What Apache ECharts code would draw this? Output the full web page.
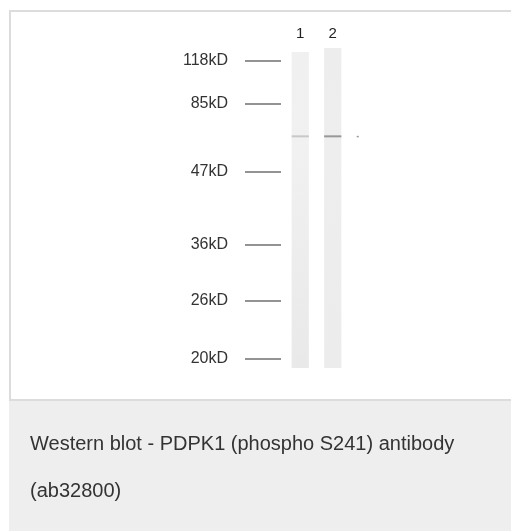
<!DOCTYPE html>
<html>
<head>
<meta charset="utf-8">
<script src="https://cdn.jsdelivr.net/npm/echarts@6/dist/echarts.min.js"></script>
<style>
html,body{margin:0;padding:0;background:#fff;}
#c{width:511px;height:531px;}
</style>
</head>
<body>
<div id="c"></div>
<script>
// Lanes
var lanes = ['1', '2'];
var laneTop = [2.5, 1.2];      // migration start of each lane
var laneBottom = [100, 100];   // migration end of each lane
// Molecular weight markers (migration distance)
var markerLabels = ['118kD', '85kD', '47kD', '36kD', '26kD', '20kD'];
var markerPos = [5.2, 18.5, 39.5, 62.0, 79.3, 97.2];
// Detected bands: [lane, migration, intensity]
var bandLane = ['1', '2'];
var bandPos = [28.5, 28.5];
var bandIntensity = [0.25, 0.6];
var caption = ['Western blot - PDPK1 (phospho S241) antibody', '(ab32800)'];

var FONT = '"Liberation Sans", Arial, Helvetica, sans-serif';
var chart = echarts.init(document.getElementById('c'), null, {renderer: 'canvas'});

var laneData = lanes.map(function (l, i) { return [i, laneTop[i], laneBottom[i]]; });
var bandData = bandLane.map(function (l, i) { return [l, bandPos[i], bandIntensity[i]]; });

chart.setOption({
  animation: false,
  backgroundColor: '#fff',
  graphic: [
    {type: 'rect', z: -10, shape: {x: 10, y: 11, width: 520, height: 389},
     style: {fill: '#fff', stroke: '#dcdcdc', lineWidth: 2}},
    {type: 'rect', z: -10, shape: {x: 9, y: 401, width: 510, height: 140},
     style: {fill: '#edeeed'}}
  ],
  title: {
    text: caption.join('\n'),
    left: 25, top: 416,
    textStyle: {fontFamily: FONT, fontSize: 20, fontWeight: 'normal', color: '#333', lineHeight: 47}
  },
  grid: {left: 284, right: 162, top: 44, bottom: 163},
  xAxis: {
    type: 'category', data: lanes, position: 'top',
    axisLine: {show: false}, axisTick: {show: false}, splitLine: {show: false},
    axisLabel: {fontFamily: FONT, fontSize: 15, color: '#222', margin: 3}
  },
  yAxis: {
    type: 'value', inverse: true, min: 0, max: 100, position: 'left', offset: 3,
    axisLine: {show: false}, splitLine: {show: false},
    axisTick: {show: true, customValues: markerPos, length: 36, lineStyle: {color: '#707070', width: 1.5}},
    axisLabel: {
      customValues: markerPos, margin: 53, fontFamily: FONT, fontSize: 16, color: '#333',
      formatter: function (v) {
        var i = markerPos.indexOf(v);
        return i >= 0 ? markerLabels[i] : '';
      }
    }
  },
  series: [
    {
      type: 'custom', data: laneData, z: 1,
      renderItem: function (params, api) {
        var i = api.value(0);
        var p0 = api.coord([i, api.value(1)]);
        var p1 = api.coord([i, api.value(2)]);
        var w = api.size([1, 0])[0] * 0.53;
        return {
          type: 'rect',
          shape: {x: p0[0] - w / 2, y: p0[1], width: w, height: p1[1] - p0[1]},
          style: {
            fill: new echarts.graphic.LinearGradient(0, 0, 0, 1, [
              {offset: 0, color: i === 0 ? '#f0f0f0' : '#ededed'},
              {offset: 0.3, color: i === 0 ? '#f1f1f1' : '#eeeeee'},
              {offset: 1, color: i === 0 ? '#e9e9e9' : '#ececec'}
            ])
          }
        };
      }
    },
    {
      type: 'custom', data: bandData, z: 2,
      renderItem: function (params, api) {
        var p = api.coord([api.value(0), api.value(1)]);
        var w = api.size([1, 0])[0] * 0.53;
        var a = api.value(2);
        var g = Math.round(235 - a * 140);
        var col = 'rgb(' + g + ',' + g + ',' + g + ')';
        var children = [{
          type: 'rect', shape: {x: p[0] - w / 2, y: p[1] - 1, width: w, height: 2},
          style: {fill: col}
        }];
        if (params.dataIndex === 1) {
          children.push({type: 'rect', shape: {x: p[0] + 24, y: p[1] - 0.5, width: 2, height: 1.5},
            style: {fill: '#999'}});
        }
        return {type: 'group', children: children};
      }
    }
  ]
});
</script>
</body>
</html>
